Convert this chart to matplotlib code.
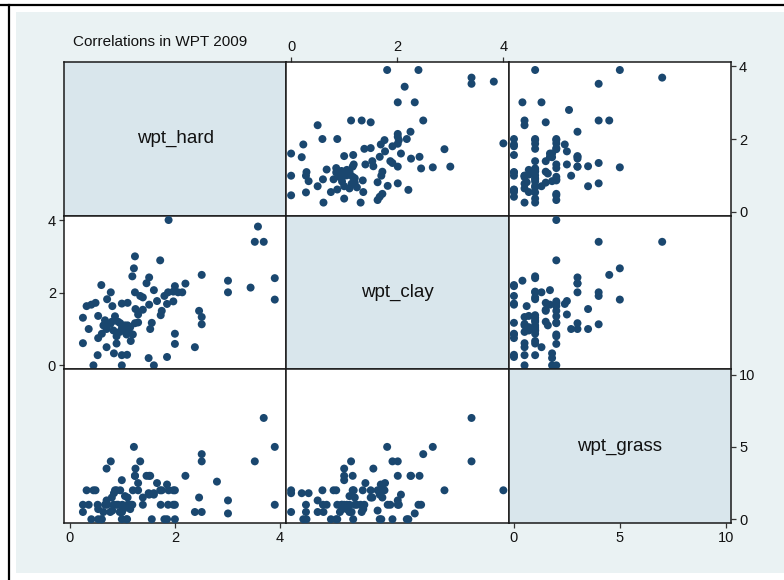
import numpy as np
import matplotlib
matplotlib.use("Agg")
import matplotlib.pyplot as plt
from matplotlib.patches import Rectangle
from matplotlib.lines import Line2D

plt.rcParams["font.family"] = ["Liberation Sans", "DejaVu Sans"]

nan = np.nan

# Water-pollution-tolerance scores, one entry per site (nan = not recorded)
wpt_hard = [1.88, 3.58, 3.52, 3.69, 1.24, 1.72, 1.22, 1.19, 2.51, 1.51,
            1.46, 0.60, 3.01, 3.90, 3.44, 0.78, 1.24, 1.60, 2.00, 2.20,
            3.01, 1.34, 1.39, 1.87, 1.97, 2.06, 2.14, 1.80, 0.71, 3.90,
            0.49, 0.41, 0.32, 0.81, 0.99, 1.10, 1.51, 1.66, 1.85, 1.97,
            1.25, 1.39, 1.30, 1.75, 1.73, 2.46, 2.51, 2.51, 0.25, 0.54,
            0.67, 0.86, 0.64, 0.77, 0.96, 1.05, 1.10, 1.24, 1.56, 0.36,
            0.70, 0.99, 1.53, 0.61, 0.89, 1.08, 0.54, 2.00, 0.25, 0.89,
            1.16, 2.00, 2.38, 0.70, 0.53, 0.84, 0.99, 1.09, 1.50, 1.85,
            0.45, 0.99, 1.60, 1.02, 0.83, 0.92, 1.15, 1.20, 2.80, 1.00,
            0.95, 1.12, 0.80, 1.30]

wpt_clay = [4.00, 3.82, 3.40, 3.40, 3.00, 2.89, 2.67, 2.45, 2.49, 2.42,
            2.26, 2.21, 2.33, 2.40, 2.14, 2.01, 2.01, 2.07, 2.18, 2.25,
            2.01, 1.91, 1.87, 2.01, 2.03, 2.01, 2.01, 1.91, 1.82, 1.81,
            1.72, 1.67, 1.63, 1.63, 1.70, 1.72, 1.67, 1.77, 1.69, 1.76,
            1.55, 1.53, 1.40, 1.50, 1.38, 1.50, 1.33, 1.13, 1.31, 1.36,
            1.24, 1.35, 1.10, 1.14, 1.16, 1.10, 1.10, 1.16, 1.17, 1.00,
            1.00, 1.00, 1.00, 0.87, 0.80, 0.85, 0.75, 0.87, 0.61, 0.60,
            0.67, 0.59, 0.50, 0.50, 0.28, 0.33, 0.28, 0.29, 0.20, 0.23,
            0.00, 0.00, 0.00, 0.96, 0.96, 1.20, 1.05, 0.85, nan, 1.05,
            0.92, 0.95, 1.20, 1.18]

wpt_grass = [2.0, nan, 4.0, 7.0, nan, 2.0, 5.0, 1.0, 4.5, 3.0,
             3.0, 0.0, 0.4, 1.0, nan, 4.0, 3.0, 1.7, 0.0, 3.0,
             1.3, 4.0, 1.0, 1.0, 1.0, nan, nan, 0.0, 1.0, 5.0,
             2.0, 0.0, 2.0, 0.6, 0.0, 1.5, 1.7, 2.5, 2.4, 2.0,
             3.5, 1.5, 2.5, 2.0, 1.0, 1.5, 0.5, 4.0, 1.0, 0.7,
             1.0, 2.0, 0.5, 0.5, 2.0, 1.6, 1.0, 3.0, 0.0, 1.0,
             3.5, 2.7, 3.0, 0.0, 2.0, 0.0, 0.0, 1.0, 0.5, 1.0,
             1.0, 2.0, 0.5, 1.3, 1.0, 1.8, 0.5, 0.0, 1.8, 0.0,
             2.0, 0.5, 1.8, 0.7, 1.0, 1.0, 0.7, 2.0, 2.6, 1.0,
             0.5, 1.0, 1.5, 2.0]

var_names = ["wpt_hard", "wpt_clay", "wpt_grass"]
var_ticks = [[0, 2, 4], [0, 2, 4], [0, 5, 10]]
title = "Correlations in WPT 2009"

data = [np.array(wpt_hard), np.array(wpt_clay), np.array(wpt_grass)]
xlimits = [(-0.11, 4.12), (-0.09, 4.10), (-0.25, 10.25)]
ylimits = [(-0.11, 4.12), (-0.11, 4.12), (-0.26, 10.36)]

W, H = 784, 580
fig = plt.figure(figsize=(W / 100, H / 100), dpi=100)
fig.patch.set_facecolor("white")

def fx(px):
    return px / W

def fy(py):
    return 1 - py / H

# graph region background and frame lines
fig.add_artist(Rectangle((fx(16), fy(573)), fx(W) - fx(16), fy(12) - fy(573),
                         transform=fig.transFigure, facecolor="#EAF2F3",
                         edgecolor="none", zorder=0))
fig.add_artist(Line2D([fx(0), fx(W)], [fy(4.5), fy(4.5)], transform=fig.transFigure,
                      color="black", lw=1.6))
fig.add_artist(Line2D([fx(9), fx(9)], [fy(4.5), fy(H)], transform=fig.transFigure,
                      color="black", lw=1.6))

fig.text(fx(73), fy(42), title, fontsize=11, color="#111111",
         ha="left", va="center")

x0, x1, y0, y1 = 64, 731, 62, 523
cw = (x1 - x0) / 3
rh = (y1 - y0) / 3
navy = "#1A476F"
tick_color = "#333333"

for r in range(3):
    for c in range(3):
        left = x0 + c * cw
        top = y0 + r * rh
        ax = fig.add_axes([fx(left), fy(top + rh), cw / W, rh / H])
        ax.set_xlim(xlimits[c])
        ax.set_ylim(ylimits[r])
        for sp in ax.spines.values():
            sp.set_color("#1a1a1a")
            sp.set_linewidth(1.1)
        if r == c:
            ax.set_facecolor("#D9E6EC")
            ax.text(0.5, 0.5, var_names[r], transform=ax.transAxes,
                    ha="center", va="center", fontsize=13.5, color="#111111")
        else:
            ax.set_facecolor("white")
            ax.scatter(data[c], data[r], s=33, color=navy, edgecolors="none",
                       zorder=3, clip_on=False)

        # axis placement alternates around the matrix
        show_bottom = (r == 2 and c in (0, 2))
        show_top = (r == 0 and c == 1)
        show_right = (c == 2 and r in (0, 2))
        show_left = (c == 0 and r == 1)

        ax.set_xticks(var_ticks[c])
        ax.set_yticks(var_ticks[r])
        ax.tick_params(axis="x", bottom=show_bottom, labelbottom=show_bottom,
                       top=show_top, labeltop=show_top)
        ax.tick_params(axis="y", left=show_left, labelleft=show_left,
                       right=show_right, labelright=show_right)
        ax.tick_params(direction="out", length=3.8, width=0.9,
                       color=tick_color, labelsize=10.5, labelcolor="#111111",
                       pad=2)

fig.savefig("out.png", dpi=100, facecolor="white")
